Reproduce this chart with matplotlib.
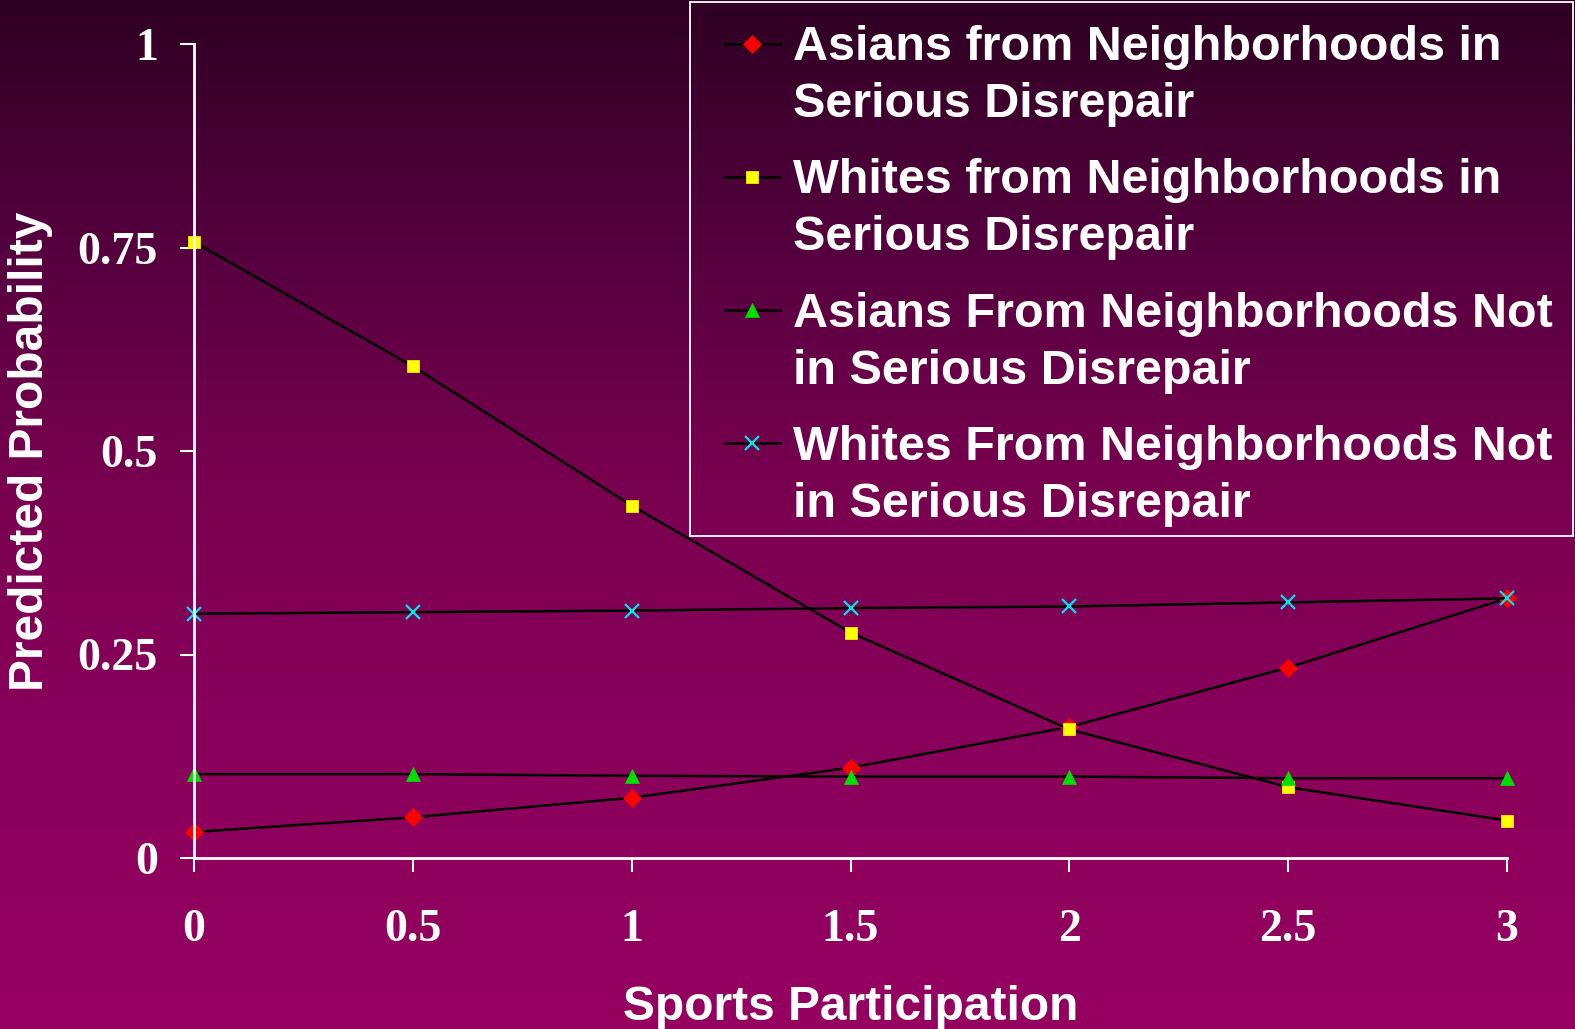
import numpy as np
import matplotlib
matplotlib.use('Agg')
from matplotlib import pyplot as plt
from matplotlib.legend_handler import HandlerLine2D
from matplotlib.patches import Rectangle

# predicted probabilities by level of sports participation
sports = [0, 0.5, 1, 1.5, 2, 2.5, 3]
asian_disrepair = [0.032, 0.050, 0.074, 0.111, 0.161, 0.234, 0.319]
white_disrepair = [0.757, 0.604, 0.433, 0.277, 0.158, 0.087, 0.046]
asian_not_disrepair = [0.103, 0.103, 0.101, 0.100, 0.100, 0.098, 0.098]
white_not_disrepair = [0.300, 0.302, 0.304, 0.307, 0.309, 0.314, 0.319]

series_labels = [
    'Asians from Neighborhoods in\nSerious Disrepair',
    'Whites from Neighborhoods in\nSerious Disrepair',
    'Asians From Neighborhoods Not\nin Serious Disrepair',
    'Whites From Neighborhoods Not\nin Serious Disrepair',
]
x_ticks = [0, 0.5, 1, 1.5, 2, 2.5, 3]
x_tick_labels = ['0', '0.5', '1', '1.5', '2', '2.5', '3']
y_ticks = [0, 0.25, 0.5, 0.75, 1]
y_tick_labels = ['0', '0.25', '0.5', '0.75', '1']

SANS = 'Liberation Sans'
SERIF = 'Liberation Serif'
FS = 34.5
LEG_FS = 34.9
W, H = 1575, 1029


class FirstLineHandler(HandlerLine2D):
    """legend handle lined up with the first line of a two-line label"""

    def create_artists(self, legend, orig_handle, xdescent, ydescent,
                       width, height, fontsize, trans):
        arts = super().create_artists(legend, orig_handle, xdescent, ydescent,
                                      width, height, fontsize, trans)
        lift = 0.68 * fontsize
        cut = 12.7
        for a in arts:
            xd = np.asarray(a.get_xdata(), dtype=float)
            if len(xd) > 1:
                a.set_xdata(np.linspace(xd[0] + cut, xd[-1], len(xd)))
            a.set_ydata(np.asarray(a.get_ydata(), dtype=float) + lift)
        return arts


fig = plt.figure(figsize=(W / 100, H / 100), dpi=100)

# vertical purple gradient behind everything
grad_y = [0, 265, 495, 715, 1029]
grad_r = [46, 88, 122, 136, 150]
grad_b = [34, 64, 80, 90, 96]
rows = np.arange(H)
grad = np.zeros((H, 1, 3))
grad[:, 0, 0] = np.interp(rows, grad_y, grad_r) / 255
grad[:, 0, 2] = np.interp(rows, grad_y, grad_b) / 255
bg = fig.add_axes([0, 0, 1, 1])
bg.imshow(grad, aspect='auto', extent=(0, 1, 0, 1), interpolation='bilinear')
bg.set_axis_off()
bg.set_zorder(0)

ax = fig.add_axes([194 / W, 1 - 858 / H, 1313 / W, 814 / H])
ax.set_zorder(1)
ax.set_facecolor('none')

styles = [
    dict(marker='D', color='red', ms=9.5),
    dict(marker='s', color='yellow', ms=9),
    dict(marker='^', color='#00e000', ms=10.5),
    dict(marker='x', color='#00e5ee', ms=10.5, mew=1.6),
]
all_series = [asian_disrepair, white_disrepair, asian_not_disrepair, white_not_disrepair]
for vals, lab, st in zip(all_series, series_labels, styles):
    ax.plot(sports, vals, color='black', lw=1.8, marker=st['marker'],
            markersize=st['ms'], markerfacecolor=st['color'],
            markeredgecolor=st['color'], markeredgewidth=st.get('mew', 0.5),
            label=lab, clip_on=False)

ax.set_xlim(0, 3)
ax.set_ylim(0, 1)
for side in ['top', 'right']:
    ax.spines[side].set_visible(False)
for side in ['left', 'bottom']:
    ax.spines[side].set_color('white')
    ax.spines[side].set_linewidth(2)

ax.set_xticks(x_ticks)
ax.set_xticklabels(x_tick_labels, family=SERIF, fontweight='bold', fontsize=33, color='white')
ax.set_yticks(y_ticks)
ax.set_yticklabels(y_tick_labels, family=SERIF, fontweight='bold', fontsize=33, color='white')
ax.tick_params(axis='x', length=10, width=1.5, color='white', pad=27)
ax.tick_params(axis='y', length=10, width=1.5, color='white', pad=16)

ax.set_xlabel('Sports Participation', family=SANS, fontweight='bold', fontsize=FS,
              color='white', labelpad=24)
ax.set_ylabel('Predicted Probability', family=SANS, fontweight='bold', fontsize=FS,
              color='white', labelpad=18)

leg = ax.legend(handler_map={matplotlib.lines.Line2D: FirstLineHandler()},
                loc='upper right', bbox_to_anchor=(1570 / W, 1 - 8 / H),
                bbox_transform=fig.transFigure, borderaxespad=0,
                prop={'family': SANS, 'weight': 'bold', 'size': LEG_FS},
                labelcolor='white', frameon=False,
                borderpad=0.35, handlelength=1.5, handletextpad=0.28,
                labelspacing=0.64)
for t in leg.get_texts():
    t.set_linespacing(1.35)

# white box around the legend, more room above the text than below
fig.canvas.draw()
ext = leg.get_window_extent()
box = Rectangle((ext.x0 / W, (ext.y0 + 8) / H), (ext.width + 3) / W,
                (ext.height - 2) / H, transform=fig.transFigure,
                facecolor='none', edgecolor='white', lw=1.3, zorder=5)
fig.patches.append(box)

fig.savefig('out.png', dpi=100)
